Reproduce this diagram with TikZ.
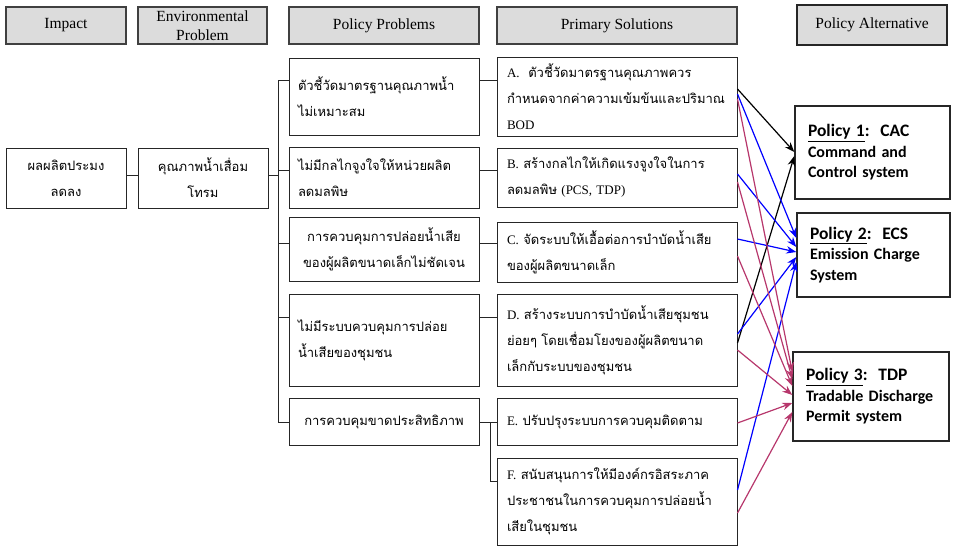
\documentclass[tikz,border=0pt]{standalone}
\usepackage{fontspec}
\setmainfont{Liberation Serif}
\newfontfamily\thai[Script=Thai]{Loma}
\newfontfamily\polfont{Carlito}
\usetikzlibrary{arrows.meta}
\definecolor{mag}{RGB}{183,55,108}
\definecolor{hdrfill}{RGB}{220,220,220}
\newcommand\lt[1]{{\rmfamily #1}}
\newcommand\ptitle[1]{{\fontsize{17.5}{21}\selectfont #1}}
\begin{document}
\begin{tikzpicture}[x=1pt,y=-1pt,
  hdr/.style={draw=black!75, line width=1.3pt, fill=hdrfill, inner sep=0pt, align=center, font=\fontsize{15.5}{19}\selectfont},
  bx/.style={draw=black!85, line width=1pt, inner sep=0pt, font=\thai\fontsize{13}{26}\selectfont},
  pol/.style={draw=black!85, line width=1.4pt, inner sep=0pt, align=left, font=\polfont\bfseries\fontsize{16}{20.5}\selectfont},
  cn/.style={line width=0.9pt, black!85},
  ar/.style={line width=1.2pt, -{Stealth[length=10pt,width=7.5pt]}},
]
\useasboundingbox (0,0) rectangle (953,547);
% headers
\node[hdr, minimum width=120pt, minimum height=37pt] (hImp) at (66,25.5) {Impact};
\node[hdr, minimum width=129pt, minimum height=37pt] (hEnv) at (202.5,25.5) {Environmental\\Problem};
\node[hdr, minimum width=190pt, minimum height=37pt] (hPP) at (384,25.5) {Policy Problems};
\node[hdr, minimum width=240pt, minimum height=37pt] (hPS) at (617,25.5) {Primary Solutions};
\node[hdr, line width=1.6pt, draw=black!85, minimum width=150pt, minimum height=40pt] (hPA) at (872,25) {Policy Alternative};
% impact & environment
\node[bx, minimum width=120pt, minimum height=60pt, align=center] (imp) at (66,178) {ผลผลิตประมง\\ลดลง};
\node[bx, minimum width=130pt, minimum height=60pt, align=center] (env) at (203,178) {คุณภาพน้ำเสื่อม\\โทรม};
% policy problems
\node[bx, minimum width=190pt, minimum height=77pt, text width=172pt, align=left] (pp1) at (384,96.5) {ตัวชี้วัดมาตรฐานคุณภาพน้ำ\\ไม่เหมาะสม};
\node[bx, minimum width=190pt, minimum height=61pt, text width=172pt, align=left] (pp2) at (384,177.5) {ไม่มีกลไกจูงใจให้หน่วยผลิต\\ลดมลพิษ};
\node[bx, minimum width=190pt, minimum height=64pt, text width=180pt, align=center] (pp3) at (384,249) {การควบคุมการปล่อยน้ำเสีย\\ของผู้ผลิตขนาดเล็กไม่ชัดเจน};
\node[bx, minimum width=190pt, minimum height=92pt, text width=172pt, align=left] (pp4) at (384,340) {ไม่มีระบบควบคุมการปล่อย\\น้ำเสียของชุมชน};
\node[bx, minimum width=190pt, minimum height=47pt, text width=180pt, align=center] (pp5) at (384,421.5) {การควบคุมขาดประสิทธิภาพ};
% primary solutions
\node[bx, minimum width=240pt, minimum height=79pt, text width=220pt, align=left] (psA) at (617,96.5) {\lt{A.}\ \ ตัวชี้วัดมาตรฐานคุณภาพควร\\กำหนดจากค่าความเข้มข้นและปริมาณ\\\lt{BOD}};
\node[bx, minimum width=240pt, minimum height=59pt, text width=220pt, align=left] (psB) at (617,177.5) {\lt{B.} สร้างกลไกให้เกิดแรงจูงใจในการ\\ลดมลพิษ \lt{(PCS, TDP)}};
\node[bx, minimum width=240pt, minimum height=60pt, text width=220pt, align=left] (psC) at (617,252) {\lt{C.} จัดระบบให้เอื้อต่อการบำบัดน้ำเสีย\\ของผู้ผลิตขนาดเล็ก};
\node[bx, minimum width=240pt, minimum height=92pt, text width=220pt, align=left] (psD) at (617,340) {\lt{D.} สร้างระบบการบำบัดน้ำเสียชุมชน\\ย่อยๆ โดยเชื่อมโยงของผู้ผลิตขนาด\\เล็กกับระบบของชุมชน};
\node[bx, minimum width=240pt, minimum height=47pt, text width=220pt, align=left] (psE) at (617,421.5) {\lt{E.} ปรับปรุงระบบการควบคุมติดตาม};
\node[bx, minimum width=240pt, minimum height=87pt, text width=220pt, align=left] (psF) at (617,501.5) {\lt{F.} สนับสนุนการให้มีองค์กรอิสระภาค\\ประชาชนในการควบคุมการปล่อยน้ำ\\เสียในชุมชน};
% policy alternatives
\node[pol, minimum width=155pt, minimum height=93pt, text width=129pt] (p1) at (872.5,152.5) {\ptitle{\underline{Policy 1}:\ \ CAC}\\\mbox{Command and}\\\mbox{Control system}};
\node[pol, minimum width=153pt, minimum height=84pt, text width=127pt] (p2) at (873.5,255) {\ptitle{\underline{Policy 2}:\ \ ECS}\\\mbox{Emission Charge}\\\mbox{System}};
\node[pol, minimum width=156pt, minimum height=89pt, text width=130pt] (p3) at (871,396.5) {\ptitle{\underline{Policy 3}:\ \ TDP}\\\mbox{Tradable Discharge}\\\mbox{Permit system}};
% tree connectors
\coordinate (b1) at (278,80);
\coordinate (b2) at (278,170);
\coordinate (b3) at (278,243);
\coordinate (b4) at (278,317);
\coordinate (b5) at (278,422);
\coordinate (be) at (278,175);
\coordinate (fj) at (490,422);
\draw[cn] (imp.east |- be) -- (env.west |- be);
\draw[cn] (env.east |- be) -- (be);
\draw[cn] (b1) -- (b5);
\foreach \i/\n in {1/1,2/2,3/3,4/4,5/5} {\draw[cn] (b\i) -- (b\i -| pp\n.west);}
\draw[cn] (pp1.east |- b1) -- (psA.west |- b1);
\draw[cn] (pp2.east |- b2) -- (psB.west |- b2);
\draw[cn] (pp3.east |- b3) -- (psC.west |- b3);
\draw[cn] (pp4.east |- b4) -- (psD.west |- b4);
\draw[cn] (pp5.east |- b5) -- (psE.west |- b5);
\draw[cn] (fj) -- (fj |- 0,481) -- (psF.west |- 0,481);
% arrows to policy 1
\draw[ar, black] (psA.east |- 0,89) -- (p1.west |- 0,152);
\draw[ar, black] (psD.east |- 0,343) -- (p1.west |- 0,156);
% arrows to policy 2
\draw[ar, blue] (psA.east |- 0,94) -- (p2.west |- 0,238);
\draw[ar, blue] (psB.east |- 0,174) -- (p2.west |- 0,247);
\draw[ar, blue] (psC.east |- 0,239) -- (p2.west |- 0,252);
\draw[ar, blue] (psD.east |- 0,334) -- (p2.west |- 0,257);
\draw[ar, blue] (psF.east |- 0,490) -- (p2.west |- 0,262);
% arrows to policy 3
\draw[ar, mag] (psA.east |- 0,99) -- (p3.west |- 0,372);
\draw[ar, mag] (psB.east |- 0,182) -- (p3.west |- 0,379);
\draw[ar, mag] (psC.east |- 0,256) -- (p3.west |- 0,386);
\draw[ar, mag] (psD.east |- 0,350) -- (p3.west |- 0,395);
\draw[ar, mag] (psE.east |- 0,423) -- (p3.west |- 0,403);
\draw[ar, mag] (psF.east |- 0,513) -- (p3.west |- 0,412);
\end{tikzpicture}
\end{document}
